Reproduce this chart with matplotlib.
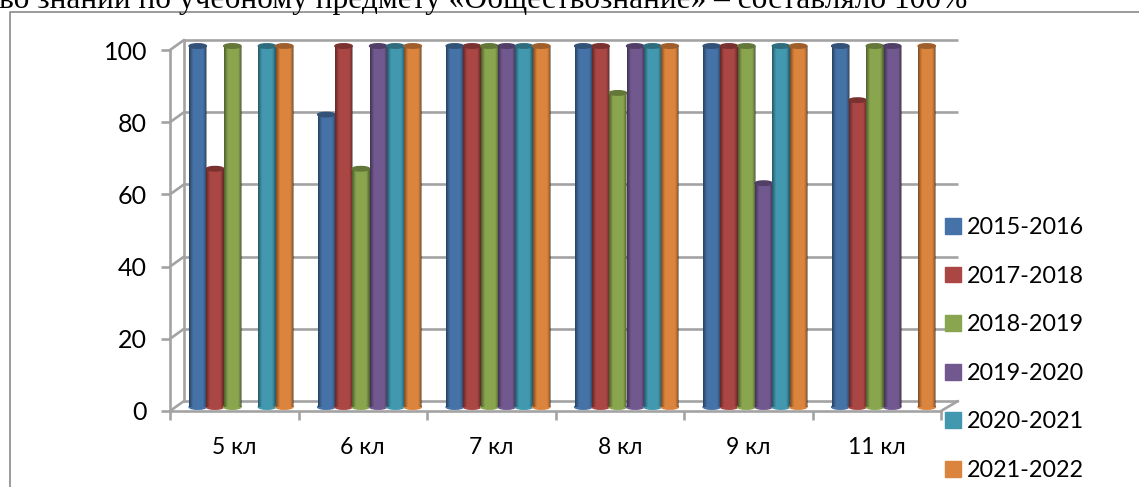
import numpy as np
import matplotlib
matplotlib.use('Agg')
import matplotlib.pyplot as plt
from matplotlib.patches import Ellipse, Patch
from matplotlib.transforms import Affine2D

W, H = 1139, 487

classes = ['5 кл', '6 кл', '7 кл', '8 кл', '9 кл', '11 кл']
years = ['2015-2016', '2017-2018', '2018-2019', '2019-2020', '2020-2021', '2021-2022']
colors = ['#4572A7', '#AA4643', '#89A54E', '#71588F', '#4198AF', '#DB843D']
y_ticks = [0, 20, 40, 60, 80, 100]

s2015 = [100, 81, 100, 100, 100, 100]
s2017 = [66, 100, 100, 100, 100, 85]
s2018 = [100, 66, 100, 87, 100, 100]
s2019 = [0, 100, 100, 100, 62, 100]
s2020 = [100, 100, 100, 100, 100, 0]
s2021 = [100, 100, 100, 100, 100, 100]
series = [s2015, s2017, s2018, s2019, s2020, s2021]

plt.rcParams['font.family'] = ['Lato', 'Noto Sans', 'DejaVu Sans']
GRAY = '#A3A3A3'

fig = plt.figure(figsize=(W / 100, H / 100), dpi=100)


def px_box(x0, y_top, x1, y_bot):
    return [x0 / W, 1 - y_bot / H, (x1 - x0) / W, (y_bot - y_top) / H]


ax = fig.add_axes(px_box(170, 50, 941, 411))
ax.patch.set_alpha(0)
ax.set_xlim(0, 6)
ax.set_ylim(0, 100)

# chart frame, the page crops it on the right and at the bottom
fig.add_artist(plt.Line2D([9.5 / W, 9.5 / W, 1], [0, 1 - 11.5 / H, 1 - 11.5 / H],
                          color='#8A8A8A', lw=1.2))
fig.text(-1 / W, 1 - 8 / H, 'во знаний по учебному предмету «Обществознание» – составляло 100%',
         family='Liberation Serif', fontsize=22.6, color='black', va='baseline')

# back wall and floor
back = ax.transData + Affine2D().translate(14, 10)
for t in y_ticks:
    ax.plot([0, 6 + 3 / 128.5], [t, t], color=GRAY, lw=1.9, transform=back,
            clip_on=False, zorder=1, solid_capstyle='butt')
    ax.annotate('', xy=(0, t), xytext=(14, 10), xycoords='data', textcoords='offset pixels',
                arrowprops=dict(arrowstyle='-', color=GRAY, lw=1.9, shrinkA=0, shrinkB=0), zorder=1)
ax.plot([0, 0], [0, 100], color=GRAY, lw=1.9, transform=back, clip_on=False, zorder=1)
ax.annotate('', xy=(6, 0), xytext=(17, 10), xycoords='data', textcoords='offset pixels',
            arrowprops=dict(arrowstyle='-', color=GRAY, lw=1.9, shrinkA=0, shrinkB=0), zorder=1)

for side in ['top', 'right']:
    ax.spines[side].set_visible(False)
for side in ['left', 'bottom']:
    ax.spines[side].set_color(GRAY)
    ax.spines[side].set_linewidth(1.9)
    ax.spines[side].set_zorder(1)

ax.set_yticks(y_ticks)
ax.set_xticks(range(7))
ax.set_xticklabels([])
ax.set_xticks(np.arange(6) + 0.5, minor=True)
ax.set_xticklabels(classes, minor=True, fontsize=16.5)
ax.tick_params(axis='y', length=6.5, width=1.9, color=GRAY, labelsize=18, pad=10, labelcolor='black')
ax.tick_params(axis='x', which='major', length=6.5, width=1.9, color=GRAY)
ax.tick_params(axis='x', which='minor', length=0, pad=19, labelcolor='black')

# cylinders: flat bar + shading image + round ends
shift = ax.transData + Affine2D().translate(6.75, 4)
bar_w = 17.3 / 128.5
shade = np.zeros((1, 40, 4))
u = np.linspace(0, 1, 40)
shade[0, :, 3] = np.clip(0.42 * (1 - u / 0.22), 0, 1) + np.clip(0.42 * (u - 0.8) / 0.2, 0, 1)
end_h = 4.5 / 3.61

for j, (vals, col) in enumerate(zip(series, colors)):
    xs = np.arange(6) + 0.5 + (j - 2.5) * bar_w
    ax.bar(xs, vals, width=bar_w, color=col, transform=shift, clip_on=False, zorder=3 + j, label=years[j])
    dark = tuple(c * 0.72 for c in matplotlib.colors.to_rgb(col))
    for x, v in zip(xs, vals):
        if v == 0:
            continue
        ax.add_patch(Ellipse((x, 0), bar_w, end_h, color=col, transform=shift, clip_on=False, zorder=3 + j))
        ax.imshow(shade, extent=(x - bar_w / 2, x + bar_w / 2, 0, v), aspect='auto', transform=shift,
                  clip_on=False, zorder=3 + j + 0.1, interpolation='bilinear')
        ax.add_patch(Ellipse((x, v), bar_w, end_h, color=dark, transform=shift, clip_on=False, zorder=3 + j + 0.2))
ax.set_xlim(0, 6)
ax.set_ylim(0, 100)

handles = [Patch(color=c, label=y) for c, y in zip(colors, years)]
fig.legend(handles=handles, loc='upper left', bbox_to_anchor=(936 / W, 1 - 208 / H), frameon=False,
           fontsize=16.8, labelspacing=1.18, handlelength=0.65, handleheight=0.65, handletextpad=0.27,
           borderpad=0.4, borderaxespad=0)

fig.savefig('out.png', dpi=100)
